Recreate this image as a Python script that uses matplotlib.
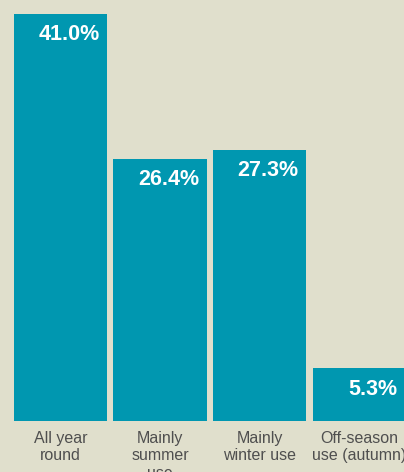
import matplotlib
matplotlib.use("Agg")
import matplotlib.pyplot as plt

categories = ["All year\nround", "Mainly\nsummer\nuse", "Mainly\nwinter use", "Off-season\nuse (autumn)"]
shares = [41.0, 26.4, 27.3, 5.3]
value_labels = ["41.0%", "26.4%", "27.3%", "5.3%"]

bg = "#e0dfcc"
teal = "#0097b0"

plt.rcParams["font.family"] = ["Liberation Sans", "DejaVu Sans"]

fig = plt.figure(figsize=(4.04, 4.72), dpi=100, facecolor=bg)
# axes spans full width; bottom at the baseline of the bars
ax = fig.add_axes([0, 51 / 472, 1, 407 / 472])
ax.set_facecolor(bg)

x = list(range(len(shares)))
bars = ax.bar(x, shares, width=0.935, color=teal, clip_on=False)

ax.set_xlim(-0.608, 3.452)
ax.set_ylim(0, 41.0)

for b, lab in zip(bars, value_labels):
    ax.annotate(lab, (b.get_x() + b.get_width(), b.get_height()),
                xytext=(-5.5, -7.5), textcoords="offset points",
                ha="right", va="top", color="white",
                fontsize=15.5, fontweight="bold", annotation_clip=False)

ax.set_xticks(x)
ax.set_xticklabels(categories, fontsize=11.5, color="#4f4f4f", linespacing=1.22)
ax.tick_params(axis="x", length=0, pad=7)
ax.set_yticks([])
for s in ax.spines.values():
    s.set_visible(False)

fig.savefig("out.png", dpi=100, facecolor=bg)
